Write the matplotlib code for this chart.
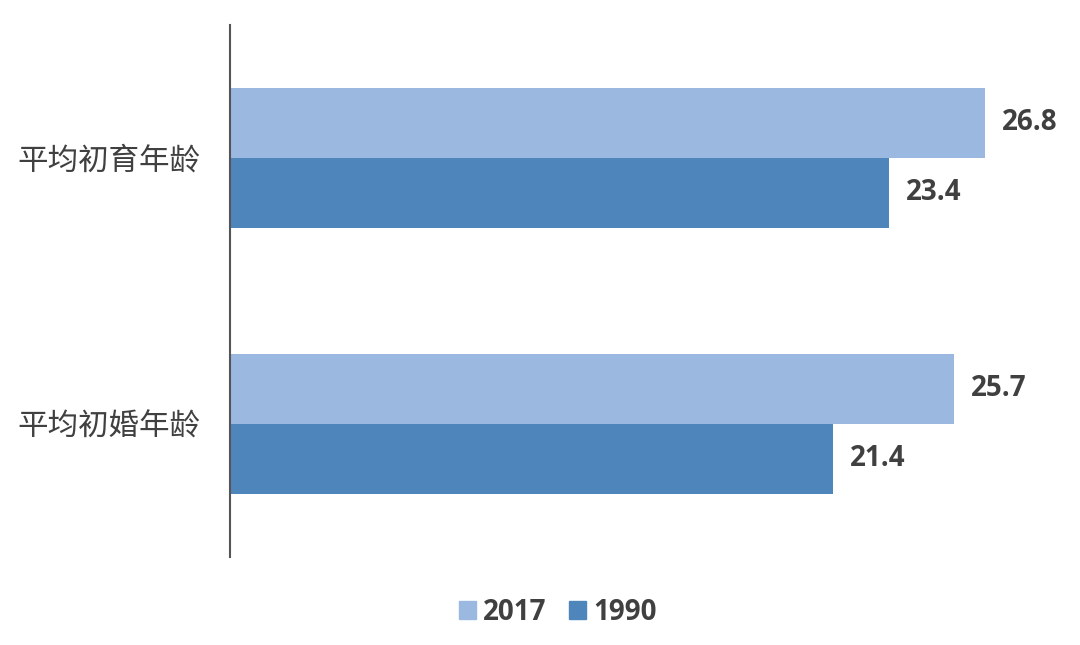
import matplotlib
matplotlib.use("Agg")
import matplotlib.pyplot as plt
from matplotlib.patches import Patch
import numpy as np

plt.rcParams['font.family'] = ['Noto Sans CJK SC', 'DejaVu Sans']

categories = ["平均初婚年龄", "平均初育年龄"]
series_names = ["2017", "1990"]
values_2017 = [25.7, 26.8]
values_1990 = [21.4, 23.4]

c_light = "#9BB8E0"
c_dark = "#4E86BC"
txt = "#404040"

fig = plt.figure(figsize=(10.8, 6.45), dpi=100)
ax = fig.add_axes([230/1080, 88/645, 845/1080, 532/645])

y = np.arange(len(categories))
h = 70/266
b1 = ax.barh(y + h/2, values_2017, height=h, color=c_light, label=series_names[0])
b2 = ax.barh(y - h/2, values_1990, height=h, color=c_dark, label=series_names[1])

for bars, vals in ((b1, values_2017), (b2, values_1990)):
    for bar, v in zip(bars, vals):
        ax.annotate(f"{v:.1f}", (bar.get_width(), bar.get_y() + bar.get_height()/2),
                    xytext=(17, 0), textcoords="offset pixels",
                    ha="left", va="center", fontsize=20, fontweight="bold",
                    color=txt, family=["Open Sans", "DejaVu Sans"])

ax.set_xlim(0, 30)
ax.set_ylim(-0.5, 1.5)
ax.set_yticks(y)
ax.set_yticklabels(categories, fontsize=22, color=txt)
ax.tick_params(axis="y", length=0, pad=21)
ax.set_xticks([])
for s in ("top", "right", "bottom"):
    ax.spines[s].set_visible(False)
ax.spines["left"].set_color("#555555")
ax.spines["left"].set_linewidth(1.5)

handles = [Patch(color=c_light), Patch(color=c_dark)]
leg = fig.legend(handles, series_names, loc="center", bbox_to_anchor=(558/1080, 1 - 612/645),
                 ncol=2, frameon=False, handlelength=0.62, handleheight=0.62,
                 handletextpad=0.25, columnspacing=0.8,
                 prop={"family": ["Open Sans", "DejaVu Sans"], "weight": "bold", "size": 20})
for t in leg.get_texts():
    t.set_color(txt)

fig.savefig("out.png", dpi=100)
